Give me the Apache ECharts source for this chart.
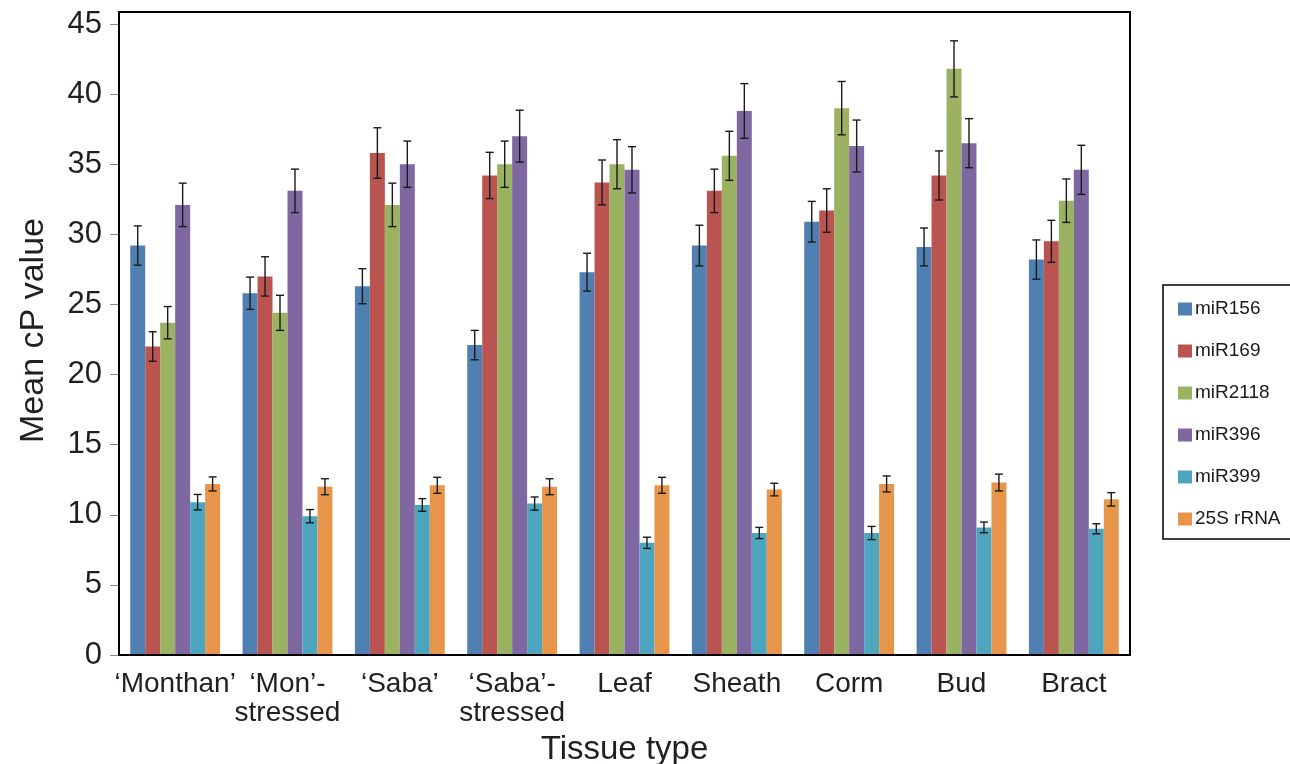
<!DOCTYPE html>
<html>
<head>
<meta charset="utf-8">
<script src="https://cdn.jsdelivr.net/npm/echarts@6/dist/echarts.min.js"></script>
<style>
  html, body { margin: 0; padding: 0; background: #fff; }
  #chart { width: 1290px; height: 764px; }
</style>
</head>
<body>
<div id="chart"></div>
<script>
// categories (tissue types)
const tissues = ['‘Monthan’', '‘Mon’-\nstressed', '‘Saba’', '‘Saba’-\nstressed', 'Leaf', 'Sheath', 'Corm', 'Bud', 'Bract']
const seriesNames = ['miR156', 'miR169', 'miR2118', 'miR396', 'miR399', '25S rRNA']
const yTicks = [0, 5, 10, 15, 20, 25, 30, 35, 40, 45]

// mean cP values per miRNA
const miR156 = [29.2, 25.8, 26.3, 22.1, 27.3, 29.2, 30.9, 29.1, 28.2]
const miR169 = [22.0, 27.0, 35.8, 34.2, 33.7, 33.1, 31.7, 34.2, 29.5]
const miR2118 = [23.7, 24.4, 32.1, 35.0, 35.0, 35.6, 39.0, 41.8, 32.4]
const miR396 = [32.1, 33.1, 35.0, 37.0, 34.6, 38.8, 36.3, 36.5, 34.6]
const miR399 = [10.9, 9.9, 10.7, 10.8, 8.0, 8.7, 8.7, 9.1, 9.0]
const rRNA25S = [12.2, 12.0, 12.1, 12.0, 12.1, 11.8, 12.2, 12.3, 11.1]

// error bar half-heights
const miR156Err = [1.4, 1.15, 1.25, 1.05, 1.35, 1.45, 1.45, 1.35, 1.4]
const miR169Err = [1.05, 1.4, 1.8, 1.65, 1.6, 1.55, 1.55, 1.75, 1.5]
const miR2118Err = [1.15, 1.25, 1.55, 1.65, 1.75, 1.75, 1.9, 2.0, 1.55]
const miR396Err = [1.55, 1.55, 1.65, 1.85, 1.65, 1.95, 1.85, 1.75, 1.75]
const miR399Err = [0.55, 0.47, 0.45, 0.47, 0.4, 0.4, 0.47, 0.38, 0.36]
const rRNA25SErr = [0.5, 0.57, 0.57, 0.57, 0.57, 0.45, 0.57, 0.6, 0.48]

const values = [miR156, miR169, miR2118, miR396, miR399, rRNA25S]
const errors = [miR156Err, miR169Err, miR2118Err, miR396Err, miR399Err, rRNA25SErr]
const colors = ['#5080B1', '#BA5450', '#9AB262', '#7F68A1', '#4DA6BE', '#E7954A']

const CAT_GAP = 0.2
const nSeries = seriesNames.length

const chart = echarts.init(document.getElementById('chart'))

// 误差线：按系列在组内偏移
const makeErrorSeries = (idx) => ({
  name: 'err-' + seriesNames[idx],
  type: 'custom',
  z: 5,
  data: values[idx].map((v, i) => [i, v, errors[idx][i]]),
  renderItem: (params, api) => {
    const c = api.value(0)
    const v = api.value(1)
    const e = api.value(2)
    const top = api.coord([c, v + e])
    const bot = api.coord([c, v - e])
    const catW = api.size([1, 0])[0]
    const barW = (catW * (1 - CAT_GAP)) / nSeries
    const x = top[0] + (idx - (nSeries - 1) / 2) * barW
    const half = 4
    const style = { stroke: '#1a1a1a', lineWidth: 1.4 }
    return {
      type: 'group',
      children: [
        { type: 'line', shape: { x1: x, y1: top[1], x2: x, y2: bot[1] }, style },
        { type: 'line', shape: { x1: x - half, y1: top[1], x2: x + half, y2: top[1] }, style },
        { type: 'line', shape: { x1: x - half, y1: bot[1], x2: x + half, y2: bot[1] }, style }
      ]
    }
  }
})

const barSeries = seriesNames.map((name, idx) => ({
  name,
  type: 'bar',
  data: values[idx],
  barGap: '0%',
  barCategoryGap: CAT_GAP * 100 + '%',
  itemStyle: { color: colors[idx] }
}))

chart.setOption({
  animation: false,
  textStyle: { fontFamily: 'Liberation Sans, Arial, sans-serif' },
  grid: { left: 119, right: 160, top: 24, bottom: 109, outerBoundsMode: 'none', containLabel: false },
  legend: {
    data: seriesNames,
    orient: 'vertical',
    left: 1163,
    top: 285,
    icon: 'rect',
    itemWidth: 14,
    itemHeight: 13,
    itemGap: 22,
    padding: [14, 14, 10, 15],
    borderColor: '#000',
    borderWidth: 1.5,
    textStyle: { fontSize: 19, lineHeight: 20, color: '#1a1a1a', padding: [0, 0, 0, -2] }
  },
  xAxis: {
    type: 'category',
    data: tissues,
    name: 'Tissue type',
    nameLocation: 'middle',
    nameGap: 78,
    nameTextStyle: { fontSize: 33, color: '#231f20' },
    axisLine: { show: false },
    axisTick: { show: false },
    axisLabel: { fontSize: 28, color: '#231f20', lineHeight: 29, margin: 15, interval: 0 }
  },
  yAxis: {
    type: 'value',
    min: 0,
    max: 45,
    interval: 5,
    name: 'Mean cP value',
    nameLocation: 'middle',
    nameGap: 68,
    nameTextStyle: { fontSize: 34, color: '#231f20', padding: [0, 0, 0, 18] },
    axisLine: { show: false },
    axisTick: { show: true, length: 9, lineStyle: { color: '#888' } },
    axisLabel: { fontSize: 31, color: '#231f20', margin: 17 },
    splitLine: { show: false }
  },
  graphic: [
    {
      type: 'rect',
      shape: { x: 119, y: 12, width: 1011, height: 643 },
      style: { fill: 'none', stroke: '#000', lineWidth: 2 },
      z: 10
    }
  ],
  series: [...barSeries, ...seriesNames.map((_, i) => makeErrorSeries(i))]
})

window.addEventListener('resize', () => chart.resize())
</script>
</body>
</html>
